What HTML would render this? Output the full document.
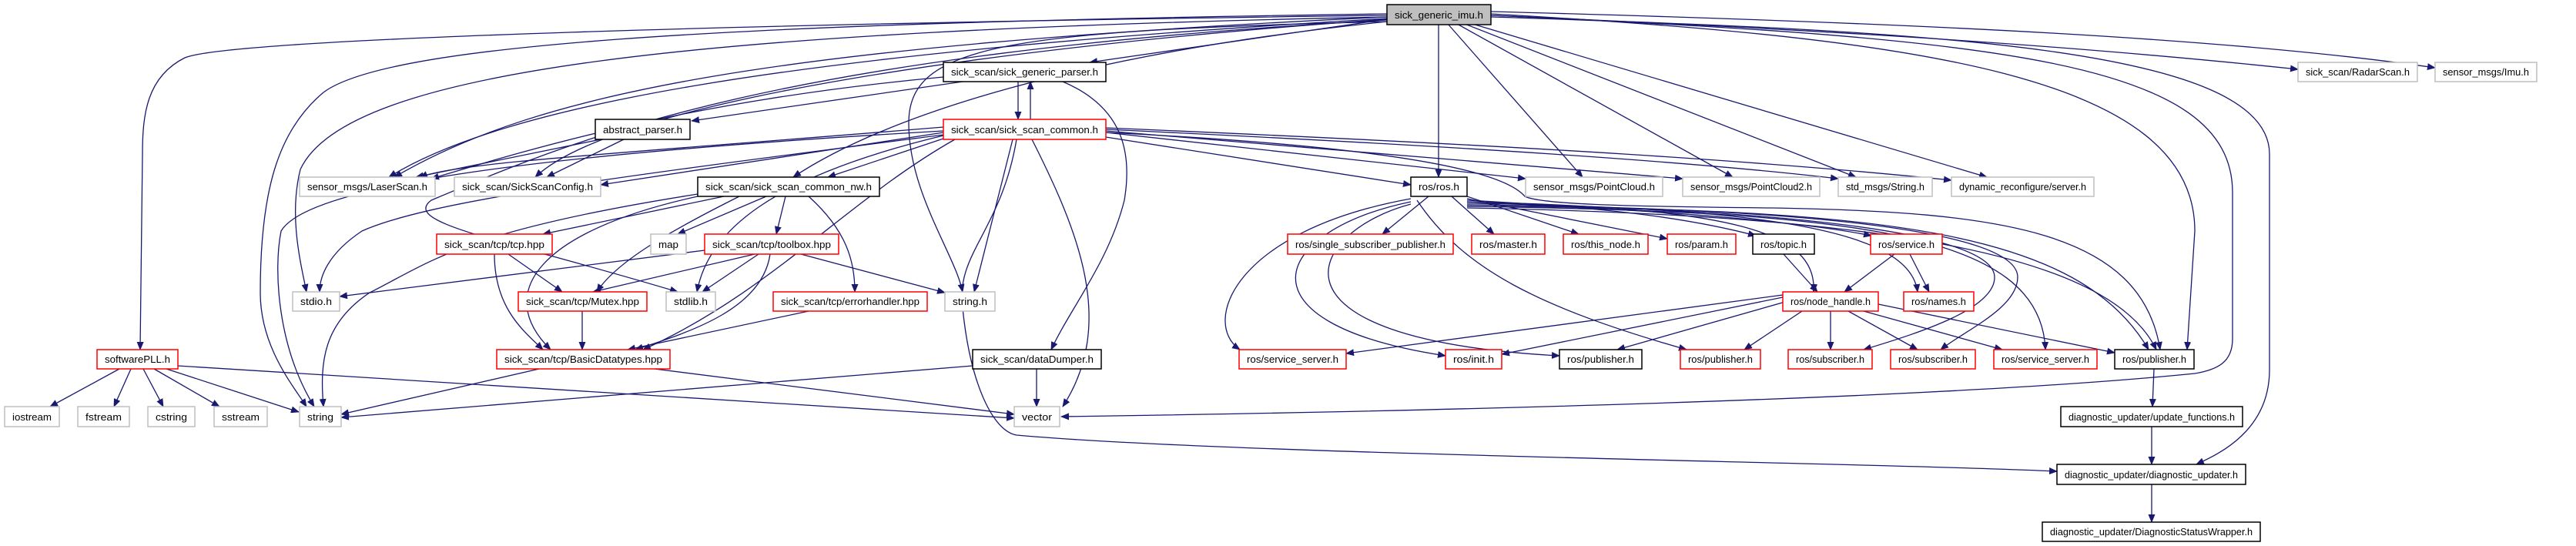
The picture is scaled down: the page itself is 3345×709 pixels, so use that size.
<!DOCTYPE html>
<html><head><meta charset="utf-8"><style>
html,body{margin:0;padding:0;background:#fff;width:3345px;height:709px;overflow:hidden}
svg{display:block}
text{font-family:"Liberation Sans",sans-serif;font-size:13px;fill:#000}
.e{fill:none;stroke:#191970;stroke-width:1.3;marker-end:url(#a)}
.r{fill:#fff;stroke:#ff0000;stroke-width:1.5}
.g{fill:#fff;stroke:#bfbfbf;stroke-width:1.5}
.b{fill:#fff;stroke:#000;stroke-width:1.5}
</style></head><body>
<svg width="3345" height="709" viewBox="0 0 3345 709" xmlns="http://www.w3.org/2000/svg">
<defs><marker id="a" markerWidth="11" markerHeight="9" refX="10" refY="4.5" orient="auto" markerUnits="userSpaceOnUse"><path d="M0,0 L11,4.5 L0,9 z" fill="#191970"/></marker></defs>
<g>
<!-- top edges -->
<path class="e" d="M1801,25 L1415,81"/>
<path class="e" d="M1868,31 L1868,230"/>
<path class="e" d="M1880,31 L2055,230"/>
<path class="e" d="M1892,31 L2250,230"/>
<path class="e" d="M1902,31 L2410,230"/>
<path class="e" d="M1912,31 L2580,230"/>
<path class="e" d="M1936,20 C2400,40 2700,60 2984,90"/>
<path class="e" d="M1936,15 C2500,30 2900,50 3162,88"/>
<path class="e" d="M1936,22 C2500,40 2947,60 2947,200 L2947,480 C2947,560 2880,590 2852,603"/>
<path class="e" d="M1936,20 C2600,50 2899,80 2899,250 L2899,440 C2899,470 2880,480 2850,485 C2500,520 1800,535 1378,541"/>
<path class="e" d="M1936,18 C2500,50 2850,100 2850,300 L2840,454"/>
<path class="e" d="M1801,20 C1000,30 300,50 240,75 C190,100 185,150 185,200 L182,454"/>
<path class="e" d="M1801,18 C900,30 500,60 420,120 C360,170 338,250 338,380 C338,450 380,500 398,528"/>
<path class="e" d="M1801,22 C900,40 450,90 390,220 C375,280 390,340 398,379"/>
<path class="e" d="M1801,22 C1000,60 700,120 512,230"/>
<path class="e" d="M1801,24 C1000,70 650,140 505,230"/>
<path class="e" d="M1801,25 C1300,60 800,130 695,230"/>
<path class="e" d="M1801,28 C1400,70 1150,150 1030,230"/>
<path class="e" d="M1801,28 C1300,40 1180,60 1180,160 C1180,250 1240,330 1250,379"/>
<path class="e" d="M1801,26 C1000,70 750,180 560,260 C520,290 650,310 880,379"/>
<!-- parser -->
<path class="e" d="M1322,106 L1322,155"/>
<path class="e" d="M1338,155 L1338,106"/>
<path class="e" d="M1250,106 L898,157"/>
<path class="e" d="M1225,100 C900,130 700,190 560,232"/>
<path class="e" d="M1380,106 C1460,140 1470,200 1460,260 C1440,340 1390,400 1365,454"/>
<!-- abstract -->
<path class="e" d="M780,181 L540,230"/>
<path class="e" d="M810,181 L710,230"/>
<!-- ssc -->
<path class="e" d="M1225,165 C800,200 600,210 545,230"/>
<path class="e" d="M1225,172 L780,240"/>
<path class="e" d="M1225,180 L1075,230"/>
<path class="e" d="M1225,170 C700,200 400,240 365,300 C355,350 360,450 408,528"/>
<path class="e" d="M1225,175 C800,230 560,260 470,300 C425,330 415,360 415,379"/>
<path class="e" d="M1315,181 L1265,379"/>
<path class="e" d="M1225,176 C1000,230 920,300 905,379"/>
<path class="e" d="M1340,181 C1400,300 1450,420 1380,528"/>
<path class="e" d="M1240,181 C1100,260 1000,380 835,454"/>
<path class="e" d="M1320,181 C1300,300 1240,330 1250,400 C1260,500 1290,560 1320,565 C1600,590 2400,600 2671,612"/>
<path class="e" d="M1436,178 L1832,240"/>
<path class="e" d="M1436,172 L1981,232"/>
<path class="e" d="M1436,170 L2185,232"/>
<path class="e" d="M1436,168 C1900,190 2200,210 2387,232"/>
<path class="e" d="M1436,166 C2000,190 2300,210 2534,234"/>
<path class="e" d="M1436,172 C1800,190 1950,220 1980,255 C2000,265 2100,268 2300,270 C2600,275 2780,300 2805,454"/>
<!-- nw -->
<path class="e" d="M940,255 L705,304"/>
<path class="e" d="M995,255 L880,304"/>
<path class="e" d="M1020,255 L1008,304"/>
<path class="e" d="M960,255 C870,300 800,340 775,379"/>
<path class="e" d="M906,255 C700,300 640,380 715,454"/>
<path class="e" d="M1050,255 C1100,300 1110,340 1110,379"/>
<path class="e" d="M906,252 C600,300 560,340 480,380 C420,420 415,470 420,528"/>
<!-- tcp / toolbox -->
<path class="e" d="M660,330 L730,379"/>
<path class="e" d="M642,330 C642,400 680,430 705,454"/>
<path class="e" d="M915,325 L441,385"/>
<path class="e" d="M985,330 L912,379"/>
<path class="e" d="M980,330 L770,379"/>
<path class="e" d="M1040,330 L1227,380"/>
<path class="e" d="M1000,330 C990,400 900,430 825,454"/>
<path class="e" d="M1050,404 L815,454"/>
<path class="e" d="M756,404 L756,454"/>
<!-- Basic / dataDumper -->
<path class="e" d="M700,479 L443,538"/>
<path class="e" d="M850,479 L1317,538"/>
<path class="e" d="M1263,475 L443,542"/>
<path class="e" d="M1346,479 L1346,528"/>
<!-- softwarePLL -->
<path class="e" d="M155,479 L65,528"/>
<path class="e" d="M170,479 L148,528"/>
<path class="e" d="M186,479 L212,528"/>
<path class="e" d="M200,479 L285,528"/>
<path class="e" d="M216,479 L388,535"/>
<path class="e" d="M231,475 L1317,543"/>
<!-- ros.h -->
<path class="e" d="M1855,255 L1795,304"/>
<path class="e" d="M1885,255 L1940,304"/>
<path class="e" d="M1905,255 L2050,304"/>
<path class="e" d="M1905,258 L2165,310"/>
<path class="e" d="M1905,260 C2100,270 2200,285 2280,306"/>
<path class="e" d="M1905,262 C2200,275 2350,290 2430,306"/>
<path class="e" d="M1905,262 C2250,270 2360,300 2355,379"/>
<path class="e" d="M1905,264 C2300,270 2480,300 2490,379"/>
<path class="e" d="M1905,266 C2300,270 2590,300 2590,360 C2590,400 2500,430 2420,454"/>
<path class="e" d="M1905,266 C2350,270 2620,300 2620,360 C2620,400 2550,430 2520,454"/>
<path class="e" d="M1905,268 C2400,275 2650,300 2656,454"/>
<path class="e" d="M1905,268 C2450,270 2700,300 2790,454"/>
<path class="e" d="M1905,270 C2450,280 2740,330 2800,454"/>
<path class="e" d="M1832,258 C1600,300 1560,420 1610,454"/>
<path class="e" d="M1832,262 C1650,300 1600,420 1877,462"/>
<path class="e" d="M1832,265 C1700,300 1620,440 2025,462"/>
<path class="e" d="M1840,260 C1900,350 2000,400 2190,454"/>
<!-- topic/service/node_handle -->
<path class="e" d="M2316,330 L2360,379"/>
<path class="e" d="M2460,330 L2395,379"/>
<path class="e" d="M2480,330 L2505,379"/>
<path class="e" d="M2315,383 L1748,459"/>
<path class="e" d="M2315,386 L1950,460"/>
<path class="e" d="M2325,390 L2100,454"/>
<path class="e" d="M2340,404 L2265,454"/>
<path class="e" d="M2377,404 L2377,454"/>
<path class="e" d="M2400,404 L2490,454"/>
<path class="e" d="M2420,404 L2600,454"/>
<path class="e" d="M2439,395 L2746,458"/>
<path class="e" d="M2797,479 L2795,528"/>
<path class="e" d="M2794,554 L2794,603"/>
<path class="e" d="M2794,629 L2794,678"/>
</g>
<g>
<rect x="1801" y="6" width="135" height="26" fill="#bfbfbf" stroke="#000" stroke-width="1.5"/><text x="1868.5" y="24" text-anchor="middle" textLength="115" lengthAdjust="spacingAndGlyphs">sick_generic_imu.h</text>
<rect class="b" x="1225" y="81" width="211" height="25"/><text x="1330.5" y="98" text-anchor="middle" textLength="191" lengthAdjust="spacingAndGlyphs">sick_scan/sick_generic_parser.h</text>
<rect class="g" x="2984" y="81" width="155" height="25"/><text x="3061.5" y="98" text-anchor="middle" textLength="135" lengthAdjust="spacingAndGlyphs">sick_scan/RadarScan.h</text>
<rect class="g" x="3162" y="81" width="132" height="25"/><text x="3228" y="98" text-anchor="middle" textLength="112" lengthAdjust="spacingAndGlyphs">sensor_msgs/Imu.h</text>
<rect class="r" x="1225" y="155" width="211" height="26"/><text x="1330.5" y="173" text-anchor="middle" textLength="191" lengthAdjust="spacingAndGlyphs">sick_scan/sick_scan_common.h</text>
<rect class="b" x="773" y="155" width="123" height="26"/><text x="834.5" y="173" text-anchor="middle" textLength="103" lengthAdjust="spacingAndGlyphs">abstract_parser.h</text>
<rect class="g" x="389" y="230" width="176" height="25"/><text x="477" y="247" text-anchor="middle" textLength="156" lengthAdjust="spacingAndGlyphs">sensor_msgs/LaserScan.h</text>
<rect class="g" x="590" y="230" width="190" height="25"/><text x="685" y="247" text-anchor="middle" textLength="170" lengthAdjust="spacingAndGlyphs">sick_scan/SickScanConfig.h</text>
<rect class="b" x="906" y="230" width="236" height="25"/><text x="1024" y="247" text-anchor="middle" textLength="216" lengthAdjust="spacingAndGlyphs">sick_scan/sick_scan_common_nw.h</text>
<rect class="b" x="1832" y="230" width="73" height="25"/><text x="1868.5" y="247" text-anchor="middle" textLength="53" lengthAdjust="spacingAndGlyphs">ros/ros.h</text>
<rect class="g" x="1981" y="230" width="178" height="25"/><text x="2070" y="247" text-anchor="middle" textLength="158" lengthAdjust="spacingAndGlyphs">sensor_msgs/PointCloud.h</text>
<rect class="g" x="2185" y="230" width="178" height="25"/><text x="2274" y="247" text-anchor="middle" textLength="158" lengthAdjust="spacingAndGlyphs">sensor_msgs/PointCloud2.h</text>
<rect class="g" x="2387" y="230" width="122" height="25"/><text x="2448" y="247" text-anchor="middle" textLength="102" lengthAdjust="spacingAndGlyphs">std_msgs/String.h</text>
<rect class="g" x="2534" y="230" width="185" height="25"/><text x="2626.5" y="247" text-anchor="middle" textLength="165" lengthAdjust="spacingAndGlyphs">dynamic_reconfigure/server.h</text>
<rect class="r" x="567" y="304" width="150" height="26"/><text x="642" y="322" text-anchor="middle" textLength="130" lengthAdjust="spacingAndGlyphs">sick_scan/tcp/tcp.hpp</text>
<rect class="g" x="845" y="304" width="46" height="26"/><text x="868" y="322" text-anchor="middle" textLength="26" lengthAdjust="spacingAndGlyphs">map</text>
<rect class="r" x="915" y="304" width="174" height="26"/><text x="1002" y="322" text-anchor="middle" textLength="154" lengthAdjust="spacingAndGlyphs">sick_scan/tcp/toolbox.hpp</text>
<rect class="r" x="1672" y="304" width="215" height="26"/><text x="1779.5" y="322" text-anchor="middle" textLength="195" lengthAdjust="spacingAndGlyphs">ros/single_subscriber_publisher.h</text>
<rect class="r" x="1911" y="304" width="95" height="26"/><text x="1958.5" y="322" text-anchor="middle" textLength="75" lengthAdjust="spacingAndGlyphs">ros/master.h</text>
<rect class="r" x="2030" y="304" width="110" height="26"/><text x="2085" y="322" text-anchor="middle" textLength="90" lengthAdjust="spacingAndGlyphs">ros/this_node.h</text>
<rect class="r" x="2165" y="304" width="89" height="26"/><text x="2209.5" y="322" text-anchor="middle" textLength="69" lengthAdjust="spacingAndGlyphs">ros/param.h</text>
<rect class="b" x="2276" y="304" width="80" height="26"/><text x="2316" y="322" text-anchor="middle" textLength="60" lengthAdjust="spacingAndGlyphs">ros/topic.h</text>
<rect class="r" x="2429" y="304" width="93" height="26"/><text x="2475.5" y="322" text-anchor="middle" textLength="73" lengthAdjust="spacingAndGlyphs">ros/service.h</text>
<rect class="g" x="380" y="379" width="61" height="25"/><text x="410.5" y="396" text-anchor="middle" textLength="41" lengthAdjust="spacingAndGlyphs">stdio.h</text>
<rect class="r" x="673" y="379" width="167" height="25"/><text x="756.5" y="396" text-anchor="middle" textLength="147" lengthAdjust="spacingAndGlyphs">sick_scan/tcp/Mutex.hpp</text>
<rect class="g" x="865" y="379" width="64" height="25"/><text x="897" y="396" text-anchor="middle" textLength="44" lengthAdjust="spacingAndGlyphs">stdlib.h</text>
<rect class="r" x="1004" y="379" width="200" height="25"/><text x="1104" y="396" text-anchor="middle" textLength="180" lengthAdjust="spacingAndGlyphs">sick_scan/tcp/errorhandler.hpp</text>
<rect class="g" x="1227" y="379" width="65" height="25"/><text x="1259.5" y="396" text-anchor="middle" textLength="45" lengthAdjust="spacingAndGlyphs">string.h</text>
<rect class="r" x="2315" y="379" width="124" height="25"/><text x="2377" y="396" text-anchor="middle" textLength="104" lengthAdjust="spacingAndGlyphs">ros/node_handle.h</text>
<rect class="r" x="2472" y="379" width="91" height="25"/><text x="2517.5" y="396" text-anchor="middle" textLength="71" lengthAdjust="spacingAndGlyphs">ros/names.h</text>
<rect class="r" x="126" y="454" width="105" height="25"/><text x="178.5" y="471" text-anchor="middle" textLength="85" lengthAdjust="spacingAndGlyphs">softwarePLL.h</text>
<rect class="r" x="645" y="454" width="225" height="25"/><text x="757.5" y="471" text-anchor="middle" textLength="205" lengthAdjust="spacingAndGlyphs">sick_scan/tcp/BasicDatatypes.hpp</text>
<rect class="b" x="1263" y="454" width="167" height="25"/><text x="1346.5" y="471" text-anchor="middle" textLength="147" lengthAdjust="spacingAndGlyphs">sick_scan/dataDumper.h</text>
<rect class="r" x="1609" y="454" width="139" height="25"/><text x="1678.5" y="471" text-anchor="middle" textLength="119" lengthAdjust="spacingAndGlyphs">ros/service_server.h</text>
<rect class="r" x="1877" y="454" width="73" height="25"/><text x="1913.5" y="471" text-anchor="middle" textLength="53" lengthAdjust="spacingAndGlyphs">ros/init.h</text>
<rect class="b" x="2025" y="454" width="107" height="25"/><text x="2078.5" y="471" text-anchor="middle" textLength="87" lengthAdjust="spacingAndGlyphs">ros/publisher.h</text>
<rect class="r" x="2182" y="454" width="104" height="25"/><text x="2234" y="471" text-anchor="middle" textLength="84" lengthAdjust="spacingAndGlyphs">ros/publisher.h</text>
<rect class="r" x="2322" y="454" width="109" height="25"/><text x="2376.5" y="471" text-anchor="middle" textLength="89" lengthAdjust="spacingAndGlyphs">ros/subscriber.h</text>
<rect class="r" x="2455" y="454" width="110" height="25"/><text x="2510" y="471" text-anchor="middle" textLength="90" lengthAdjust="spacingAndGlyphs">ros/subscriber.h</text>
<rect class="r" x="2589" y="454" width="134" height="25"/><text x="2656" y="471" text-anchor="middle" textLength="114" lengthAdjust="spacingAndGlyphs">ros/service_server.h</text>
<rect class="b" x="2746" y="454" width="103" height="25"/><text x="2797.5" y="471" text-anchor="middle" textLength="83" lengthAdjust="spacingAndGlyphs">ros/publisher.h</text>
<rect class="g" x="6" y="528" width="71" height="26"/><text x="41.5" y="546" text-anchor="middle" textLength="51" lengthAdjust="spacingAndGlyphs">iostream</text>
<rect class="g" x="101" y="528" width="67" height="26"/><text x="134.5" y="546" text-anchor="middle" textLength="47" lengthAdjust="spacingAndGlyphs">fstream</text>
<rect class="g" x="192" y="528" width="61" height="26"/><text x="222.5" y="546" text-anchor="middle" textLength="41" lengthAdjust="spacingAndGlyphs">cstring</text>
<rect class="g" x="278" y="528" width="69" height="26"/><text x="312.5" y="546" text-anchor="middle" textLength="49" lengthAdjust="spacingAndGlyphs">sstream</text>
<rect class="g" x="389" y="528" width="54" height="26"/><text x="416" y="546" text-anchor="middle" textLength="34" lengthAdjust="spacingAndGlyphs">string</text>
<rect class="g" x="1317" y="528" width="59" height="26"/><text x="1346.5" y="546" text-anchor="middle" textLength="39" lengthAdjust="spacingAndGlyphs">vector</text>
<rect class="b" x="2676" y="528" width="236" height="26"/><text x="2794" y="546" text-anchor="middle" textLength="216" lengthAdjust="spacingAndGlyphs">diagnostic_updater/update_functions.h</text>
<rect class="b" x="2671" y="603" width="245" height="26"/><text x="2793.5" y="621" text-anchor="middle" textLength="225" lengthAdjust="spacingAndGlyphs">diagnostic_updater/diagnostic_updater.h</text>
<rect class="b" x="2652" y="678" width="283" height="25"/><text x="2793.5" y="695" text-anchor="middle" textLength="263" lengthAdjust="spacingAndGlyphs">diagnostic_updater/DiagnosticStatusWrapper.h</text>
</g>
</svg>
</body></html>
